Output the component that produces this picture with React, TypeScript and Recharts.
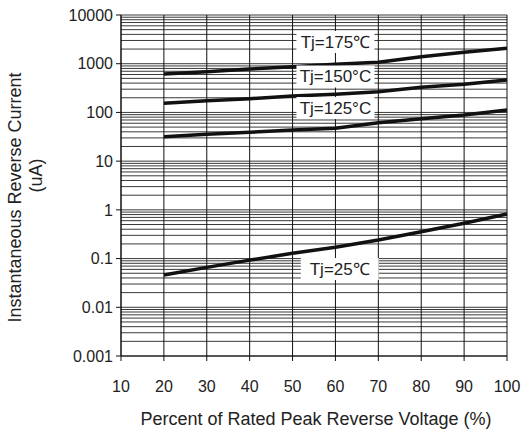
import { LineChart, Line, XAxis, YAxis, ReferenceLine, ReferenceDot, Label } from 'recharts';

// Percent of rated peak reverse voltage
const volts = [20, 30, 40, 50, 60, 70, 80, 90, 100];

// Reverse current (uA) per junction temperature
const tj175 = [615, 685, 780, 870, 970, 1070, 1390, 1710, 2070];
const tj150 = [154, 174, 191, 217, 235, 266, 327, 378, 462];
const tj125 = [31.7, 35.5, 39, 43.5, 47.2, 61.5, 74.3, 88.5, 112];
const tj25 = [0.046, 0.066, 0.093, 0.128, 0.17, 0.24, 0.355, 0.53, 0.82];

const xTicks = [10, 20, 30, 40, 50, 60, 70, 80, 90, 100];
const yTicks = [0.001, 0.01, 0.1, 1, 10, 100, 1000, 10000];

// curve tags, anchored in data coordinates
const tags = [
  { text: 'Tj=175℃', x: 60, y: 2790 },
  { text: 'Tj=150°C', x: 60, y: 546 },
  { text: 'Tj=125°C', x: 60, y: 123 },
  { text: 'Tj=25℃', x: 61, y: 0.061 },
];

const rows = volts.map((v, i) => ({
  v,
  t175: tj175[i],
  t150: tj150[i],
  t125: tj125[i],
  t25: tj25[i],
}));

// log grid: 1..9 in every decade
const gridY: number[] = [];
for (let e = -3; e < 4; e++) {
  for (let m = 1; m < 10; m++) {
    gridY.push(Number((m * Math.pow(10, e)).toPrecision(3)));
  }
}
gridY.push(10000);

const FONT = '"Liberation Sans", Arial, Helvetica, sans-serif';

const Tag = (props: any) => {
  const { cx, cy, text } = props;
  return (
    <g>
      <rect x={cx - 39} y={cy - 11} width={78} height={22} fill="#fff" />
      <text x={cx} y={cy} textAnchor="middle" dominantBaseline="central" fontSize={17} fill="#222" fontFamily={FONT}>
        {text}
      </text>
    </g>
  );
};

const XTitle = (props: any) => {
  const { x, y, width } = props.viewBox;
  return (
    <text x={x + width / 2 + 2} y={y + 69} textAnchor="middle" fontSize={18} fill="#222" fontFamily={FONT}>
      Percent of Rated Peak Reverse Voltage (%)
    </text>
  );
};

const YTitle = (props: any) => {
  const { y, height } = props.viewBox;
  const cy = y + height / 2;
  return (
    <g fontSize={18} fill="#222" fontFamily={FONT} textAnchor="middle">
      <text x={15} y={cy + 12} dominantBaseline="central" transform={`rotate(-90 15 ${cy + 12})`}>
        Instantaneous Reverse Current
      </text>
      <text x={36} y={cy - 10} dominantBaseline="central" transform={`rotate(-90 36 ${cy - 10})`}>
        (uA)
      </text>
    </g>
  );
};

export default function App() {
  return (
    <div style={{ position: 'absolute', left: 0, top: 0, width: 523, height: 435, background: '#fff' }}>
      <LineChart width={523} height={435} data={rows} margin={{ top: 15, right: 16, bottom: 0, left: 0 }}>
        {gridY.map((g) => (
          <ReferenceLine key={'h' + g} y={g} stroke="#3a3a3a" strokeWidth={1} ifOverflow="extendDomain" />
        ))}
        {xTicks.map((t) => (
          <ReferenceLine key={'v' + t} x={t} stroke="#111" strokeWidth={1} />
        ))}
        <XAxis
          dataKey="v"
          type="number"
          domain={[10, 100]}
          ticks={xTicks}
          height={79}
          tickSize={5}
          tickMargin={20}
          stroke="#111"
          tick={{ fill: '#222', fontSize: 16, fontFamily: FONT }}
        >
          <Label content={XTitle} />
        </XAxis>
        <YAxis
          type="number"
          scale="log"
          domain={[0.001, 10000]}
          allowDataOverflow
          ticks={yTicks}
          width={121}
          tickSize={5}
          tickMargin={3}
          stroke="#111"
          tick={{ fill: '#222', fontSize: 16, fontFamily: FONT }}
          tickFormatter={(v: number) => String(v)}
        >
          <Label content={YTitle} />
        </YAxis>
        <Line dataKey="t175" type="linear" stroke="#111" strokeWidth={3.5} dot={false} isAnimationActive={false} />
        <Line dataKey="t150" type="linear" stroke="#111" strokeWidth={3.5} dot={false} isAnimationActive={false} />
        <Line dataKey="t125" type="linear" stroke="#111" strokeWidth={3.5} dot={false} isAnimationActive={false} />
        <Line dataKey="t25" type="linear" stroke="#111" strokeWidth={3.5} dot={false} isAnimationActive={false} />
        {tags.map((t) => (
          <ReferenceDot key={t.text} x={t.x} y={t.y} r={0} shape={(p: any) => <Tag {...p} text={t.text} />} />
        ))}
      </LineChart>
    </div>
  );
}
